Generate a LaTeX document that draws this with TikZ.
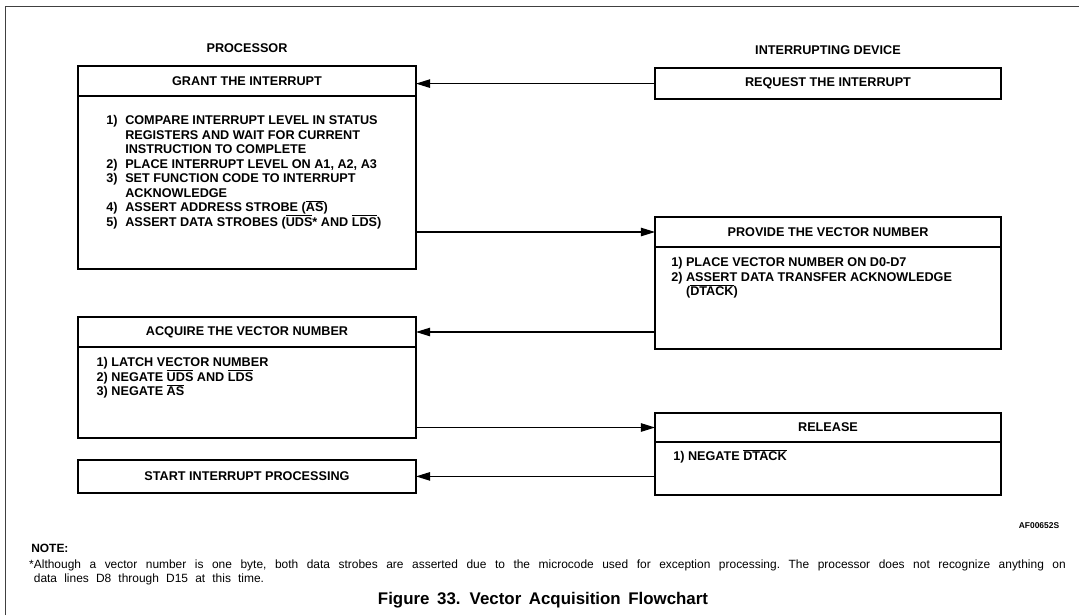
\documentclass[tikz,border=0pt]{standalone}
\usepackage{fontspec}
\setmainfont{Liberation Sans}
\usetikzlibrary{positioning,calc}
\usetikzlibrary{arrows.meta}
\newcommand{\ovl}[1]{\smash{$\overline{\mbox{#1}}$}}
\tikzset{
	frame/.style={draw=black!75,line width=0.6pt},
	lane/.style={inner sep=0pt,font=\fontsize{9}{10.3}\selectfont\bfseries},
	boxhead/.style={draw=black,line width=1.5pt,outer sep=0pt,inner sep=0pt,
		font=\fontsize{9}{10.3}\selectfont\bfseries,minimum height=0.75cm},
	lhead/.style={boxhead,minimum width=8.45cm},
	rhead/.style={boxhead,minimum width=8.65cm},
	lbody/.style={draw=black,line width=1.5pt,outer sep=0pt,inner sep=0pt,minimum width=8.45cm},
	rbody/.style={draw=black,line width=1.5pt,outer sep=0pt,inner sep=0pt,minimum width=8.65cm},
	items/.style={inner sep=0pt,font=\fontsize{9}{10.3}\selectfont\bfseries},
	flow/.style={draw=black,line width=0.8pt,->},
	notetext/.style={inner sep=0pt,text width=25.8cm,align=justify,
		font=\fontsize{8.5}{9.8}\selectfont},
}
\begin{document}
\begin{tikzpicture}[>={Triangle[length=10pt,width=6pt]}]
	\useasboundingbox (0,0) rectangle (26.975,-15.375);
	\draw[frame] (0.125,-15.375) |- (26.975,-0.15);
	\node[lane] (proc) at (6.175,-1.21) {PROCESSOR};
	\node[lane] (dev) at (20.7,-1.25) {INTERRUPTING DEVICE};
	\node[lhead,anchor=north] (grant) at (6.175,-1.65) {GRANT THE INTERRUPT};
	\node[lbody,minimum height=4.325cm,below=0pt of grant] (grantbody) {};
	\node[items,below right=0.46cm and 0.7cm of grantbody.north west] (grantlist) {%
		\begin{tabular}{@{}l@{\hspace{5.5pt}}l@{}}
			1) & COMPARE INTERRUPT LEVEL IN STATUS\\
			   & REGISTERS AND WAIT FOR CURRENT\\
			   & INSTRUCTION TO COMPLETE\\
			2) & PLACE INTERRUPT LEVEL ON A1, A2, A3\\
			3) & SET FUNCTION CODE TO INTERRUPT\\
			   & ACKNOWLEDGE\\
			4) & ASSERT ADDRESS STROBE (\ovl{AS})\\
			5) & ASSERT DATA STROBES (\ovl{UDS}* AND \ovl{LDS})
		\end{tabular}};
	\node[rhead,minimum height=0.775cm] (req) at (20.7,-2.09) {REQUEST THE INTERRUPT};
	\node[rhead,anchor=north] (prov) at (20.7,-5.425) {PROVIDE THE VECTOR NUMBER};
	\node[rbody,minimum height=2.55cm,below=0pt of prov] (provbody) {};
	\node[items,below right=0.235cm and 0.4cm of provbody.north west] (provlist) {%
		\begin{tabular}{@{}l@{\ }l@{}}
			1) & PLACE VECTOR NUMBER ON D0-D7\\
			2) & ASSERT DATA TRANSFER ACKNOWLEDGE\\
			   & (\ovl{DTACK})
		\end{tabular}};
	\node[lhead,anchor=north] (acq) at (6.175,-7.925) {ACQUIRE THE VECTOR NUMBER};
	\node[lbody,minimum height=2.275cm,below=0pt of acq] (acqbody) {};
	\node[items,below right=0.235cm and 0.46cm of acqbody.north west] (acqlist) {%
		\begin{tabular}{@{}l@{}}
			1) LATCH VECTOR NUMBER\\
			2) NEGATE \ovl{UDS} AND \ovl{LDS}\\
			3) NEGATE \ovl{AS}
		\end{tabular}};
	\node[rhead,anchor=north,minimum height=0.725cm] (rel) at (20.7,-10.325) {RELEASE};
	\node[rbody,minimum height=1.325cm,below=0pt of rel] (relbody) {};
	\node[items,below right=0.21cm and 0.45cm of relbody.north west] (rellist) {%
		\begin{tabular}{@{}l@{}}
			1) NEGATE \ovl{DTACK}
		\end{tabular}};
	\node[lhead,minimum height=0.825cm] (start) at (6.175,-11.91) {START INTERRUPT PROCESSING};
	\draw[flow] (req.west) -- (req.west -| grant.east);
	\draw[flow] (grantbody.east |- prov.west) -- (prov.west);
	\draw[flow] (provbody.west |- acq.east) -- (acq.east);
	\draw[flow] (acqbody.east |- rel.west) -- (rel.west);
	\draw[flow] (relbody.west |- start.east) -- (start.east);
	\node[inner sep=0pt,font=\fontsize{6}{7}\selectfont\bfseries] (code) at (25.975,-13.15) {AF00652S};
	\node[inner sep=0pt,anchor=west,font=\fontsize{8.5}{9.8}\selectfont\bfseries] (note) at (0.775,-13.7) {NOTE:};
	\node[notetext,anchor=north west] (notebody) at (0.84,-14.0) {\frenchspacing\spaceskip=0.6em plus 0.4em minus 0.1em
		\llap{*}Although a vector number is one byte, both data strobes are asserted due to the microcode used for exception processing. The processor does not recognize anything on\linebreak
		data lines D8 through D15 at this time.};
	\node[inner sep=0pt,font=\fontsize{12}{14}\selectfont\bfseries] (caption) at (13.575,-15.0) {\spaceskip=0.45em Figure 33. Vector Acquisition Flowchart};
\end{tikzpicture}
\end{document}
